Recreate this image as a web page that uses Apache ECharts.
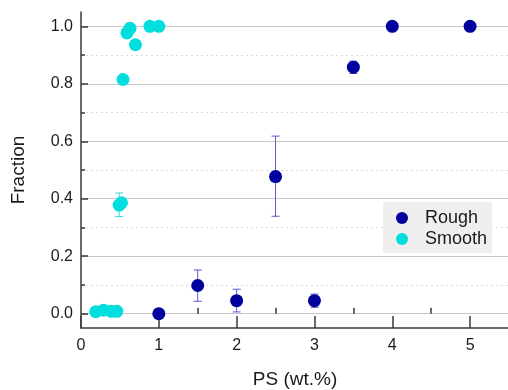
<!DOCTYPE html>
<html><head><meta charset="utf-8">
<script src="https://cdn.jsdelivr.net/npm/echarts@6/dist/echarts.min.js"></script>
<style>html,body{margin:0;padding:0;background:#fff}#c{width:508px;height:390px}</style>
</head><body><div id="c"></div>
<script>
// Data
const roughX  = [1, 1.5, 2, 2.5, 3, 3.5, 4, 5];
const roughY  = [0.0, 0.098, 0.045, 0.477, 0.045, 0.858, 1.0, 1.0];
const roughLo = [0.0, 0.043, 0.006, 0.339, 0.022, 0.836, 1.0, 1.0];
const roughHi = [0.0, 0.152, 0.085, 0.618, 0.068, 0.879, 1.0, 1.0];
const smoothX  = [0.19, 0.29, 0.39, 0.46, 0.49, 0.52, 0.54, 0.59, 0.63, 0.70, 0.886, 1.0];
const smoothY  = [0.007, 0.012, 0.008, 0.008, 0.378, 0.386, 0.815, 0.977, 0.993, 0.936, 1.0, 1.0];
const smoothLo = [0.007, 0.012, 0.008, 0.008, 0.338, 0.386, 0.815, 0.977, 0.993, 0.936, 1.0, 1.0];
const smoothHi = [0.007, 0.012, 0.008, 0.008, 0.420, 0.386, 0.815, 0.977, 0.993, 0.936, 1.0, 1.0];
const xTickValues  = [0, 1, 2, 3, 4, 5];
const xMinorValues = [0.5, 1.5, 2.5, 3.5, 4.5];
const yTickValues  = [0, 0.2, 0.4, 0.6, 0.8, 1.0];
const yMinorValues = [0.1, 0.3, 0.5, 0.7, 0.9];
const seriesNames = ['Rough', 'Smooth'];

const ROUGH = '#00009c', SMOOTH = '#00dede';
const FONT = 'Liberation Sans';
const axisCol = '#3a3a3a';
const txtCol = '#1a1a1a';

function errSeries(xs, lo, hi, color, name) {
  return {
    type: 'custom', name: name, z: 1, silent: true,
    data: xs.map((x, i) => [x, lo[i], hi[i]]),
    renderItem: function (params, api) {
      if (api.value(1) === api.value(2)) return null;
      const x = api.value(0);
      const a = api.coord([x, api.value(1)]);
      const b = api.coord([x, api.value(2)]);
      const w = 4;
      const style = { stroke: color, lineWidth: 1 };
      return { type: 'group', children: [
        { type: 'line', shape: { x1: a[0], y1: a[1], x2: b[0], y2: b[1] }, style: style },
        { type: 'line', shape: { x1: a[0] - w, y1: a[1], x2: a[0] + w, y2: a[1] }, style: style },
        { type: 'line', shape: { x1: b[0] - w, y1: b[1], x2: b[0] + w, y2: b[1] }, style: style }
      ]};
    }
  };
}

const chart = echarts.init(document.getElementById('c'), null, { renderer: 'canvas' });
chart.setOption({
  animation: false,
  backgroundColor: '#fff',
  textStyle: { fontFamily: FONT },
  grid: { left: 81, top: 12, width: 428, height: 316, containLabel: false, outerBoundsMode: 'none' },
  legend: {
    data: seriesNames,
    orient: 'vertical', left: 383, top: 202,
    backgroundColor: '#efefef', borderWidth: 0,
    padding: [7, 5, 5, 13], itemGap: 3,
    itemWidth: 12, itemHeight: 12, icon: 'circle',
    textStyle: { fontSize: 18, color: txtCol, fontFamily: FONT, padding: [0, 0, 0, 12] }
  },
  xAxis: [{
    type: 'value', min: 0, max: 5.5, interval: 1,
    name: 'PS (wt.%)', nameLocation: 'middle', nameGap: 42,
    nameTextStyle: { fontSize: 19, color: txtCol, fontFamily: FONT },
    axisLine: { show: true, onZero: false, lineStyle: { color: axisCol, width: 1.5 } },
    axisTick: { show: true, inside: true, length: 12, customValues: xTickValues, lineStyle: { color: axisCol, width: 1.5 } },
    axisLabel: { customValues: xTickValues, fontSize: 16, color: txtCol, margin: 10, fontFamily: FONT },
    splitLine: { show: false }
  }, {
    type: 'value', min: 0, max: 5.5, position: 'bottom',
    axisLine: { show: false },
    axisTick: { show: true, inside: true, length: 6, customValues: xMinorValues, lineStyle: { color: axisCol, width: 1.5 } },
    axisLabel: { show: false },
    splitLine: { show: false }
  }],
  yAxis: [{
    type: 'value', min: -0.05, max: 1.05, position: 'left',
    name: 'Fraction', nameLocation: 'middle', nameGap: 53,
    nameTextStyle: { fontSize: 19, color: txtCol, fontFamily: FONT },
    axisLine: { show: true, onZero: false, lineStyle: { color: axisCol, width: 1.5 } },
    axisTick: { show: true, inside: true, length: 7, customValues: yTickValues, lineStyle: { color: axisCol, width: 1.5 } },
    axisLabel: { customValues: yTickValues, fontSize: 16, color: txtCol, margin: 8, fontFamily: FONT,
                 formatter: v => v.toFixed(1) },
    splitLine: { show: true, lineStyle: { color: '#c8c8c8', width: 1 } }
  }, {
    type: 'value', min: -0.05, max: 1.05, position: 'left',
    axisLine: { show: false },
    axisTick: { show: true, inside: true, length: 4, customValues: yMinorValues, lineStyle: { color: axisCol, width: 1.5 } },
    axisLabel: { show: false },
    splitLine: { show: true, lineStyle: { color: '#dcdcdc', width: 1, type: [2, 3] } }
  }],
  series: [
    errSeries(roughX, roughLo, roughHi, '#5a5ad0', 'RoughErr'),
    errSeries(smoothX, smoothLo, smoothHi, '#33dddd', 'SmoothErr'),
    { type: 'scatter', name: seriesNames[0], symbol: 'circle', symbolSize: 13, z: 3,
      itemStyle: { color: ROUGH, opacity: 1 },
      data: roughX.map((x, i) => [x, roughY[i]]) },
    { type: 'scatter', name: seriesNames[1], symbol: 'circle', symbolSize: 13, z: 3,
      itemStyle: { color: SMOOTH, opacity: 1 },
      data: smoothX.map((x, i) => [x, smoothY[i]]) }
  ]
});
</script>
</body></html>
